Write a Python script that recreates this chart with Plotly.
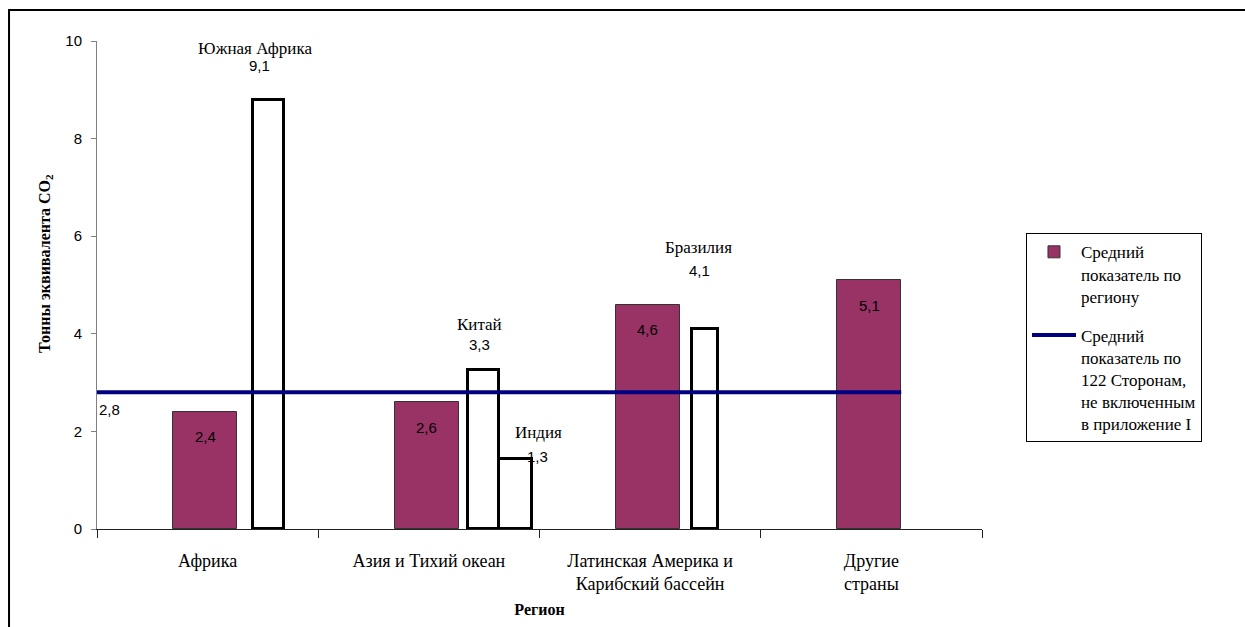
import plotly.graph_objects as go

# ---------------- data ----------------
regions = ["Африка", "Азия и Тихий океан", "Латинская Америка и<br>Карибский бассейн", "Другие<br>страны"]
region_avg = [2.4, 2.6, 4.6, 5.1]
countries = ["Южная Африка", "Китай", "Индия", "Бразилия"]
country_region = [0, 1, 1, 2]
country_bar = [8.8, 3.26, 1.43, 4.1]      # bar heights as drawn
country_label = [9.1, 3.3, 1.3, 4.1]      # values printed above the bars
overall_avg = 2.8
y_ticks = [0, 2, 4, 6, 8, 10]
legend_names = [
    "Средний<br>показатель по<br>региону",
    "Средний<br>показатель по<br>122 Сторонам,<br>не включенным<br>в приложение I",
]

# ---------------- layout constants ----------------
PURPLE = "#993366"
NAVY = "#000080"
SERIF = "Liberation Serif"
SANS = "Liberation Sans"
REG_OFF, REG_W = -0.01, 0.29
c_off = [0.277, 0.247, 0.39, 0.249]
c_w = [0.14, 0.14, 0.15, 0.115]
name_shift = [(-14, 51), (-4, 45), (23, 27), (-7, 81)]
value_shift = [(-9, 34), (-4, 25), (22, 3), (-6, 58)]


def fmt(v):
    return f"{v:.1f}".replace(".", ",")


reg_x = [i + 0.5 + REG_OFF for i in range(len(regions))]
cty_x = [r + 0.5 + o for r, o in zip(country_region, c_off)]

fig = go.Figure()
fig.add_trace(go.Bar(
    x=reg_x, y=region_avg, width=[REG_W] * len(regions),
    marker=dict(color=PURPLE, line=dict(color="#333333", width=1)),
    name=legend_names[0], legendgroup="reg", showlegend=True, hoverinfo="skip",
))
fig.add_trace(go.Bar(
    x=cty_x, y=country_bar, width=c_w,
    marker=dict(color="white", line=dict(color="black", width=3)),
    showlegend=False, hoverinfo="skip",
))
line_end = reg_x[-1] + REG_W / 2
fig.add_trace(go.Scatter(
    x=[0, line_end], y=[overall_avg, overall_avg], mode="lines",
    line=dict(color=NAVY, width=4), name=legend_names[1], legendgroup="all", hoverinfo="skip",
))

ann = []
for x, v in zip(reg_x, region_avg):
    ann.append(dict(x=x, y=v, text=fmt(v), showarrow=False, xanchor="center", yanchor="middle",
                    yshift=-25, font=dict(family=SANS, size=15, color="black")))
for x, v, lab, nm, ns, vs in zip(cty_x, country_bar, country_label, countries, name_shift, value_shift):
    ann.append(dict(x=x, y=v, text=nm, showarrow=False, xanchor="center", yanchor="middle",
                    xshift=ns[0], yshift=ns[1], font=dict(family=SERIF, size=17, color="black")))
    ann.append(dict(x=x, y=v, text=fmt(lab), showarrow=False, xanchor="center", yanchor="middle",
                    xshift=vs[0], yshift=vs[1], font=dict(family=SANS, size=15, color="black")))
ann.append(dict(x=0, y=overall_avg, text=fmt(overall_avg), showarrow=False, xanchor="left",
                yanchor="middle", xshift=0, yshift=-17, font=dict(family=SANS, size=15, color="black")))
ann.append(dict(xref="paper", yref="paper", x=-0.0588, y=0.545, textangle=-90,
                text="<b>Тонны эквивалента CO<sub>2</sub></b>", showarrow=False,
                xanchor="center", yanchor="middle", font=dict(family=SERIF, size=16, color="black")))

fig.update_layout(
    width=1245, height=627,
    margin=dict(l=97, r=263, t=41, b=98),
    paper_bgcolor="white", plot_bgcolor="white",
    barmode="overlay", bargap=0,
    annotations=ann,
    showlegend=True,
    legend=dict(x=1.0497, y=0.606, xanchor="left", yanchor="top",
                bordercolor="black", borderwidth=1, bgcolor="white",
                font=dict(family=SERIF, size=17, color="black"),
                valign="top", itemwidth=44, tracegroupgap=14, traceorder="grouped"),
    shapes=[dict(type="rect", xref="paper", yref="paper", x0=-0.0994, x1=1.4, y0=-0.4, y1=1.0636,
                 line=dict(color="black", width=2), fillcolor="rgba(0,0,0,0)", layer="below")],
    xaxis=dict(range=[0, len(regions)], tickmode="array",
               tickvals=[i + 0.5 for i in range(len(regions))], ticktext=regions,
               ticks="", showline=True, linecolor="#222222", linewidth=1,
               showgrid=False, zeroline=False, ticklabelstandoff=15,
               tickfont=dict(family=SERIF, size=18, color="black"),
               minor=dict(tickvals=list(range(len(regions) + 1)), ticks="outside",
                          ticklen=8, tickcolor="#222222", showgrid=False),
               title=dict(text="<b>Регион</b>", font=dict(family=SERIF, size=16, color="black"), standoff=10)),
    yaxis=dict(range=[0, 10], tickmode="array", tickvals=y_ticks, ticks="outside", ticklen=5,
               tickcolor="#808080", showline=True, linecolor="#808080", linewidth=1,
               showgrid=False, zeroline=False, ticklabelstandoff=6,
               tickfont=dict(family=SANS, size=15, color="black")),
)

fig.write_html("out.html")
